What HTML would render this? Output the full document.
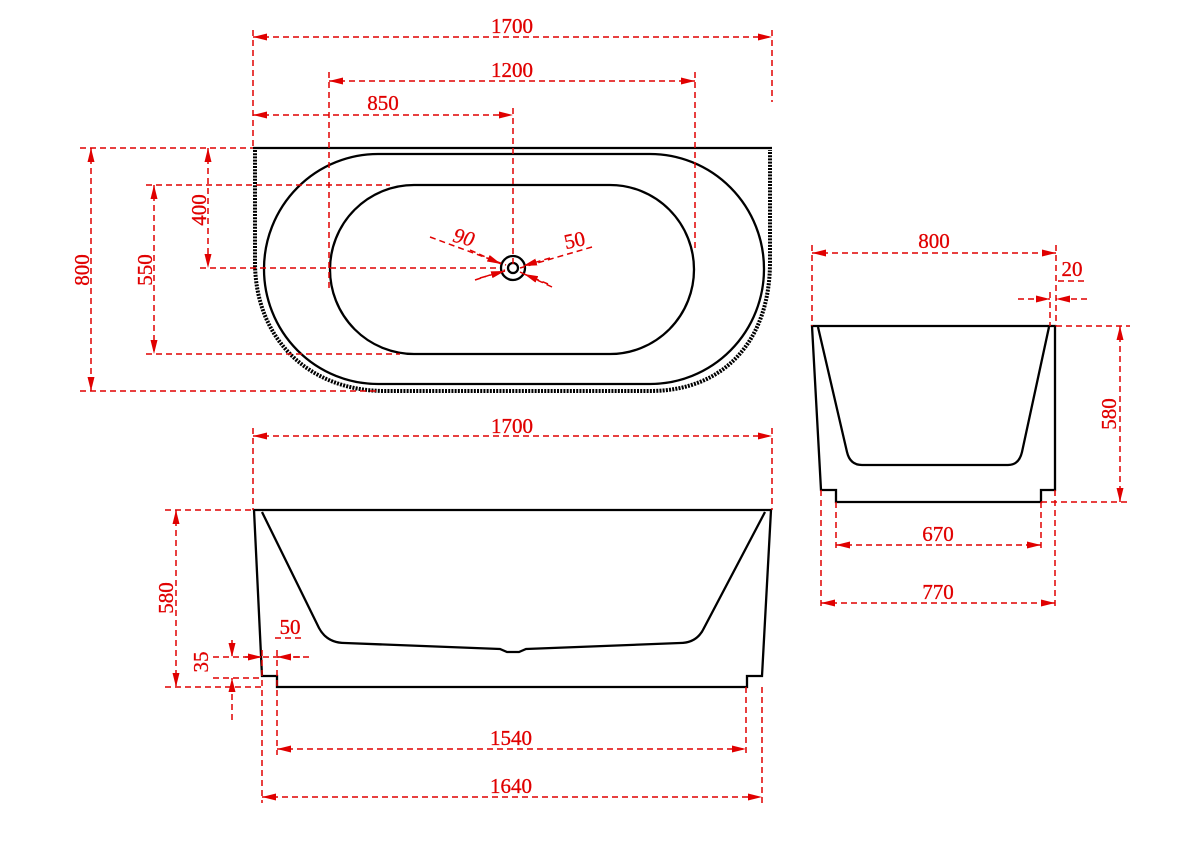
<!DOCTYPE html>
<html><head><meta charset="utf-8"><style>
html,body{margin:0;padding:0;background:#fff;}
svg{display:block;}
text{font-family:"Liberation Serif",serif;font-size:21px;fill:#e00000;stroke:#e00000;stroke-width:0.3;}
</style></head><body>
<svg width="1200" height="848" viewBox="0 0 1200 848" xmlns="http://www.w3.org/2000/svg">
<defs>
<marker id="a" viewBox="0 0 14 7" refX="14" refY="3.5" markerWidth="14" markerHeight="7" markerUnits="userSpaceOnUse" orient="auto-start-reverse"><path d="M0,0 L14,3.5 L0,7z" fill="#e00000"/></marker>
</defs>
<g fill="none" stroke="#000" stroke-width="2.3">
<line x1="253" y1="148" x2="772" y2="148"/>
<path d="M255,150 L255,262 C255,340 310,391 385,391 L650,391 C725,391 770,340 770,262 L770,150" stroke-width="4" stroke-dasharray="2 1.2"/>
<path d="M378,154 L650,154 A114,115 0 0 1 650,384 L378,384 A114,115 0 0 1 378,154z"/>
<path d="M414,185 L610,185 A84,84.5 0 0 1 610,354 L414,354 A84,84.5 0 0 1 414,185z"/>
<circle cx="513" cy="268" r="12"/>
<circle cx="513" cy="268" r="5"/>
<path d="M254,510 L771,510 L762,676 L747,676 L747,687 L277,687 L277,676 L262,676 Z"/>
<path d="M262,512 L319,628 Q327,643 345,643 L500,649 L507,652 L519,652 L526,649 L680,643 Q697,643 704,628 L765,512"/>
<path d="M812,326 L1055,326 L1055,490 L1041,490 L1041,502 L836,502 L836,490 L821,490 Z"/>
<path d="M818,327 L847,452 Q850,465 862,465 L1008,465 Q1019,465 1022,452 L1049,327"/>
</g>
<g fill="none" stroke="#e00000" stroke-width="1.5" stroke-dasharray="6 4">
<line x1="253" y1="30" x2="253" y2="148"/><line x1="772" y1="30" x2="772" y2="102"/>
<line x1="329" y1="72" x2="329" y2="290"/><line x1="695" y1="72" x2="695" y2="250"/>
<line x1="513" y1="108" x2="513" y2="268"/>
<line x1="80" y1="148" x2="253" y2="148"/><line x1="80" y1="391" x2="380" y2="391"/>
<line x1="146" y1="185" x2="390" y2="185"/><line x1="146" y1="354" x2="400" y2="354"/>
<line x1="200" y1="268" x2="500" y2="268"/>
<line x1="430" y1="237" x2="506" y2="265"/><line x1="475" y1="280" x2="505" y2="270"/>
<line x1="592" y1="247" x2="520" y2="268"/><line x1="552" y1="287" x2="520" y2="272"/>
<line x1="253" y1="428" x2="253" y2="510"/><line x1="772" y1="428" x2="772" y2="510"/>
<line x1="165" y1="510" x2="254" y2="510"/><line x1="165" y1="687" x2="262" y2="687"/>
<line x1="213" y1="657" x2="310" y2="657"/>
<line x1="213" y1="678" x2="262" y2="678"/>
<line x1="262" y1="650" x2="262" y2="803"/><line x1="277" y1="650" x2="277" y2="755"/>
<line x1="746" y1="687" x2="746" y2="755"/><line x1="762" y1="687" x2="762" y2="803"/>
<line x1="275" y1="638" x2="305" y2="638"/>
<line x1="812" y1="245" x2="812" y2="326"/><line x1="1056" y1="245" x2="1056" y2="326"/>
<line x1="1050" y1="292" x2="1050" y2="326"/>
<line x1="1056" y1="326" x2="1130" y2="326"/><line x1="1041" y1="502" x2="1130" y2="502"/>
<line x1="821" y1="490" x2="821" y2="610"/><line x1="836" y1="502" x2="836" y2="552"/>
<line x1="1041" y1="502" x2="1041" y2="552"/><line x1="1055" y1="490" x2="1055" y2="610"/>
<line x1="1058" y1="281" x2="1087" y2="281"/>
</g>
<g fill="none" stroke="#e00000" stroke-width="1.5" stroke-dasharray="6 4" marker-start="url(#a)" marker-end="url(#a)">
<line x1="253" y1="37" x2="772" y2="37"/>
<line x1="329" y1="81" x2="695" y2="81"/>
<line x1="253" y1="115" x2="513" y2="115"/>
<line x1="91" y1="148" x2="91" y2="391"/>
<line x1="154" y1="185" x2="154" y2="354"/>
<line x1="208" y1="148" x2="208" y2="268"/>
<line x1="253" y1="436" x2="772" y2="436"/>
<line x1="176" y1="510" x2="176" y2="687"/>
<line x1="277" y1="749" x2="746" y2="749"/>
<line x1="262" y1="797" x2="762" y2="797"/>
<line x1="812" y1="253" x2="1056" y2="253"/>
<line x1="1120" y1="326" x2="1120" y2="502"/>
<line x1="836" y1="545" x2="1041" y2="545"/>
<line x1="821" y1="603" x2="1055" y2="603"/>
</g>
<g fill="none" stroke="#e00000" stroke-width="1.5" stroke-dasharray="6 4">
<line x1="1018" y1="299" x2="1050" y2="299" marker-end="url(#a)"/>
<line x1="1087" y1="299" x2="1056" y2="299" marker-end="url(#a)"/>
<line x1="232" y1="640" x2="232" y2="657" marker-end="url(#a)"/>
<line x1="232" y1="720" x2="232" y2="678" marker-end="url(#a)"/>
<line x1="245" y1="657" x2="262" y2="657" marker-end="url(#a)"/>
<line x1="300" y1="657" x2="277" y2="657" marker-end="url(#a)"/>
<line x1="470" y1="250" x2="501" y2="264" marker-end="url(#a)"/>
<line x1="480" y1="278" x2="505" y2="271" marker-end="url(#a)"/>
<line x1="550" y1="258" x2="523" y2="266" marker-end="url(#a)"/>
<line x1="548" y1="284" x2="524" y2="274" marker-end="url(#a)"/>
</g>
<text x="512" y="33" text-anchor="middle">1700</text>
<text x="512" y="77" text-anchor="middle">1200</text>
<text x="383" y="110" text-anchor="middle">850</text>
<text transform="translate(89,270) rotate(-90)" text-anchor="middle">800</text>
<text transform="translate(152,270) rotate(-90)" text-anchor="middle">550</text>
<text transform="translate(206,210) rotate(-90)" text-anchor="middle">400</text>
<text transform="translate(462,244) rotate(15)" text-anchor="middle" font-style="italic">90</text>
<text transform="translate(576,247) rotate(-12)" text-anchor="middle">50</text>
<text x="512" y="433" text-anchor="middle">1700</text>
<text transform="translate(173,598) rotate(-90)" text-anchor="middle">580</text>
<text transform="translate(208,662) rotate(-90)" text-anchor="middle">35</text>
<text x="290" y="634" text-anchor="middle">50</text>
<text x="511" y="745" text-anchor="middle">1540</text>
<text x="511" y="793" text-anchor="middle">1640</text>
<text x="934" y="248" text-anchor="middle">800</text>
<text x="1072" y="276" text-anchor="middle">20</text>
<text transform="translate(1116,414) rotate(-90)" text-anchor="middle">580</text>
<text x="938" y="541" text-anchor="middle">670</text>
<text x="938" y="599" text-anchor="middle">770</text>
</svg>
</body></html>
